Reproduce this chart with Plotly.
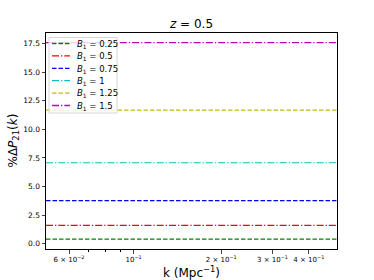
import plotly.graph_objects as go

k_vals = [0.05, 0.1, 0.2, 0.3, 0.4, 0.5]
b1_labels = ["0.25", "0.5", "0.75", "1", "1.25", "1.5"]
delta_p = [0.41, 1.6, 3.77, 7.08, 11.68, 17.58]
colors = ["#008000", "#ff0000", "#0000ff", "#00bfbf", "#bfbf00", "#bf00bf"]
dashes = ["4.5px,2px", "7px,2px,1.3px,2px", "4.5px,2px", "7px,2px,1.3px,2px", "4.5px,2px", "7px,2px,1.3px,2px"]

x_tickvals = [0.06, 0.1, 0.2, 0.3, 0.4]
x_ticktext = ["6 × 10<sup>−2</sup>", "10<sup>−1</sup>", "2 × 10<sup>−1</sup>", "3 × 10<sup>−1</sup>", "4 × 10<sup>−1</sup>"]
x_minor = [0.07, 0.08, 0.09]
y_tickvals = [0.0, 2.5, 5.0, 7.5, 10.0, 12.5, 15.0, 17.5]
y_ticktext = ["0.0", "2.5", "5.0", "7.5", "10.0", "12.5", "15.0", "17.5"]

W, H = 374, 280
ML, MR, MT, MB = 46, 37, 33, 31
PW, PH = W - ML - MR, H - MT - MB


def px(x, y):
    return (x - ML) / PW, (H - MB - y) / PH


fig = go.Figure()
for lab, v, c, d in zip(b1_labels, delta_p, colors, dashes):
    fig.add_trace(go.Scatter(
        x=k_vals, y=[v] * len(k_vals), mode="lines",
        line=dict(color=c, width=1.2, dash=d),
        name=f"<i>B</i><sub>1</sub> = {lab}", showlegend=False,
    ))

# legend drawn manually (matplotlib-like compact layout)
shapes = []
annotations = []
bx0, by0 = px(49, 37.5)
bx1, by1 = px(117, 113)
shapes.append(dict(type="rect", xref="paper", yref="paper", x0=bx0, y0=by0, x1=bx1, y1=by1,
                   line=dict(color="#d6d6d6", width=1), fillcolor="rgba(255,255,255,0.8)",
                   layer="above"))
for i, (lab, c, d) in enumerate(zip(b1_labels, colors, dashes)):
    ry = 43.5 + i * 12.4
    lx0, ly = px(52, ry)
    lx1, _ = px(70, ry)
    tx, ty = px(75.5, ry + 0.8)
    shapes.append(dict(type="line", xref="paper", yref="paper", x0=lx0, x1=lx1, y0=ly, y1=ly,
                       line=dict(color=c, width=1.3, dash=d), layer="above"))
    annotations.append(dict(xref="paper", yref="paper", x=tx, y=ty, xanchor="left", yanchor="middle",
                            text=f"<i>B</i><sub>1</sub> = {lab}", showarrow=False,
                            font=dict(size=8.5), borderpad=0))

# y-axis title
ytx, yty = px(13.5, MT + PH / 2)
annotations.append(dict(xref="paper", yref="paper", x=ytx, y=yty, xanchor="center", yanchor="middle",
                        text="%Δ<i>P</i><sub>21</sub>(<i>k</i>)", textangle=-90, showarrow=False,
                        font=dict(size=12)))

fig.update_layout(
    width=W, height=H,
    margin=dict(l=ML, r=MR, t=MT, b=MB, autoexpand=False),
    paper_bgcolor="white", plot_bgcolor="white",
    font=dict(family="DejaVu Sans", color="black", size=8),
    title=dict(text="<i>z</i> = 0.5", x=(ML + PW / 2) / W, xref="container", xanchor="center",
               yref="container", y=1 - 24 / H, yanchor="middle", font=dict(size=12)),
    showlegend=False,
    shapes=shapes,
    annotations=annotations,
    xaxis=dict(type="log", range=[-1.30103, -0.30103], automargin=False,
               tickvals=x_tickvals, ticktext=x_ticktext, ticks="outside", ticklen=3.5,
               tickfont=dict(size=7),
               minor=dict(tickvals=x_minor, ticks="outside", ticklen=2, tickcolor="black"),
               showgrid=False, zeroline=False, showline=True, linecolor="black", linewidth=1,
               mirror=True,
               title=dict(text="k (Mpc<sup>−1</sup>)", font=dict(size=12), standoff=4)),
    yaxis=dict(range=[-0.46, 18.42], tickvals=y_tickvals, ticktext=y_ticktext, automargin=False,
               ticks="outside", ticklen=3.5, tickfont=dict(size=7.5),
               showgrid=False, zeroline=False, showline=True, linecolor="black", linewidth=1,
               mirror=True),
)

fig.write_html(
    "out.html",
    config={"displayModeBar": False},
    post_script="document.body.style.margin='0';document.documentElement.style.overflow='hidden';document.body.style.overflow='hidden';",
)
